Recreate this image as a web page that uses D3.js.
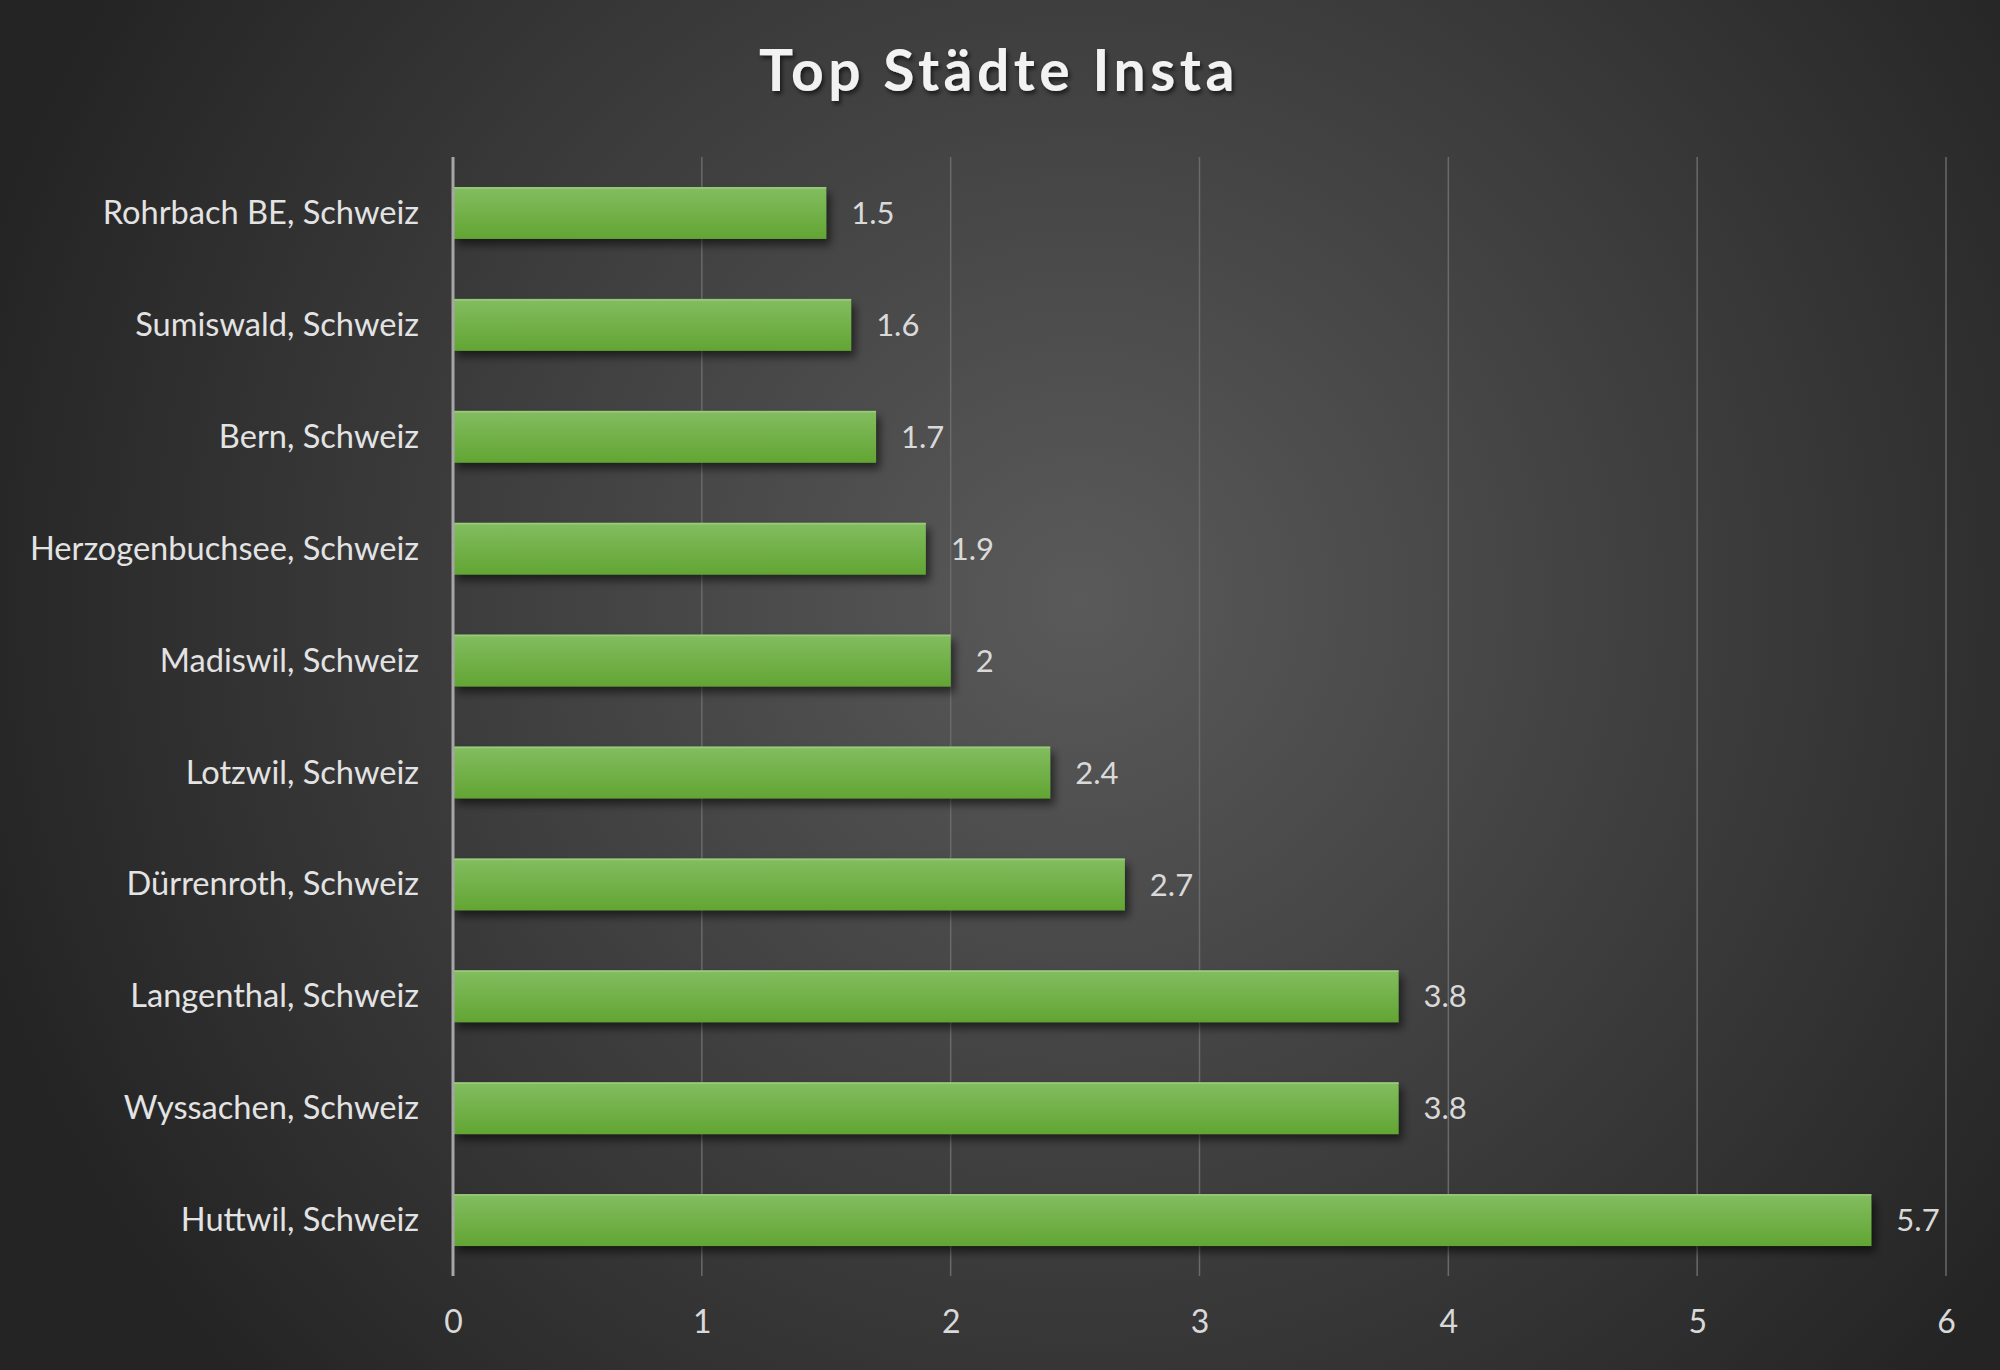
<!DOCTYPE html>
<html>
<head>
<meta charset="utf-8">
<script src="https://cdn.jsdelivr.net/npm/d3@7"></script>
<style>
  html, body { margin: 0; padding: 0; background: #262626; }
  svg { display: block; }
</style>
</head>
<body>
<script>
const cities = [
  'Rohrbach BE, Schweiz',
  'Sumiswald, Schweiz',
  'Bern, Schweiz',
  'Herzogenbuchsee, Schweiz',
  'Madiswil, Schweiz',
  'Lotzwil, Schweiz',
  'Dürrenroth, Schweiz',
  'Langenthal, Schweiz',
  'Wyssachen, Schweiz',
  'Huttwil, Schweiz'
];
const shares = [1.5, 1.6, 1.7, 1.9, 2, 2.4, 2.7, 3.8, 3.8, 5.7];
const xTicks = [0, 1, 2, 3, 4, 5, 6];
const title = 'Top Städte Insta';

const W = 2000, H = 1370;
const margin = {top: 157, right: 54, bottom: 94, left: 453};
const font = 'Lato, "Open Sans", sans-serif';

const svg = d3.select('body').append('svg')
  .attr('width', W)
  .attr('height', H);

const defs = svg.append('defs');

const bg = defs.append('radialGradient')
  .attr('id', 'bg')
  .attr('gradientUnits', 'userSpaceOnUse')
  .attr('cx', 1080).attr('cy', 600).attr('r', 1150);
bg.append('stop').attr('offset', '0%').attr('stop-color', '#5a5a5a');
bg.append('stop').attr('offset', '100%').attr('stop-color', '#242424');

const barFill = defs.append('linearGradient')
  .attr('id', 'barFill')
  .attr('x1', 0).attr('y1', 0).attr('x2', 0).attr('y2', 1);
barFill.append('stop').attr('offset', '0%').attr('stop-color', '#83bd60');
barFill.append('stop').attr('offset', '100%').attr('stop-color', '#62a533');

const shadow = defs.append('filter')
  .attr('id', 'shadow')
  .attr('x', '-5%').attr('y', '-30%').attr('width', '115%').attr('height', '180%');
shadow.append('feDropShadow')
  .attr('dx', 4).attr('dy', 6).attr('stdDeviation', 4)
  .attr('flood-color', '#000').attr('flood-opacity', 0.55);

const titleShadow = defs.append('filter').attr('id', 'titleShadow');
titleShadow.append('feDropShadow')
  .attr('dx', 2).attr('dy', 3).attr('stdDeviation', 2)
  .attr('flood-color', '#000').attr('flood-opacity', 0.6);

svg.append('rect')
  .attr('width', W).attr('height', H)
  .attr('fill', 'url(#bg)');

const x = d3.scaleLinear()
  .domain([0, 6])
  .range([margin.left, W - margin.right]);

const y = d3.scaleBand()
  .domain(cities)
  .range([margin.top, H - margin.bottom])
  .paddingInner(0.536)
  .paddingOuter(0.268);

// vertical gridlines
svg.append('g')
  .selectAll('line')
  .data(xTicks.slice(1))
  .join('line')
  .attr('x1', d => x(d)).attr('x2', d => x(d))
  .attr('y1', margin.top).attr('y2', H - margin.bottom)
  .attr('stroke', '#6a6a6a')
  .attr('stroke-width', 1.5);

// x axis labels
const xAxis = d3.axisBottom(x)
  .tickValues(xTicks)
  .tickSize(0)
  .tickPadding(0)
  .tickFormat(d3.format('d'));

const gx = svg.append('g')
  .attr('transform', `translate(0,${H - margin.bottom + 57})`)
  .call(xAxis);
gx.select('.domain').remove();
gx.selectAll('text')
  .attr('dy', 0)
  .attr('fill', '#d9d9d9')
  .style('font-family', font)
  .style('font-size', '32px');

// y axis labels
const yAxis = d3.axisLeft(y).tickSize(0).tickPadding(34);
const gy = svg.append('g')
  .attr('transform', `translate(${margin.left},0)`)
  .call(yAxis);
gy.select('.domain').remove();
gy.selectAll('text')
  .attr('fill', '#e3e3e3')
  .attr('dy', '0.34em')
  .style('font-family', font)
  .style('font-size', '32.6px');

// bars
svg.append('g')
  .selectAll('rect')
  .data(shares)
  .join('rect')
  .attr('x', x(0))
  .attr('y', (d, i) => y(cities[i]))
  .attr('width', d => x(d) - x(0))
  .attr('height', y.bandwidth())
  .attr('fill', 'url(#barFill)')
  .attr('filter', 'url(#shadow)');

// thin highlight on bar top
svg.append('g')
  .selectAll('line')
  .data(shares)
  .join('line')
  .attr('x1', x(0))
  .attr('x2', d => x(d))
  .attr('y1', (d, i) => y(cities[i]) + 1)
  .attr('y2', (d, i) => y(cities[i]) + 1)
  .attr('stroke', '#9acb7c')
  .attr('stroke-width', 1.5);

// axis line at zero
svg.append('line')
  .attr('x1', x(0)).attr('x2', x(0))
  .attr('y1', margin.top).attr('y2', H - margin.bottom)
  .attr('stroke', '#a6a6a6')
  .attr('stroke-width', 3);

// value labels
svg.append('g')
  .selectAll('text')
  .data(shares)
  .join('text')
  .attr('x', d => x(d) + 25)
  .attr('y', (d, i) => y(cities[i]) + y.bandwidth() / 2)
  .attr('dy', '0.36em')
  .attr('fill', '#d9d9d9')
  .style('font-family', font)
  .style('font-size', '31px')
  .text(d => d);

// title
svg.append('text')
  .attr('x', 999)
  .attr('y', 91)
  .attr('text-anchor', 'middle')
  .attr('fill', '#f2f2f2')
  .attr('filter', 'url(#titleShadow)')
  .style('font-family', font)
  .style('font-weight', 700)
  .style('font-size', '57px')
  .style('letter-spacing', '4.5px')
  .text(title);
</script>
</body>
</html>
